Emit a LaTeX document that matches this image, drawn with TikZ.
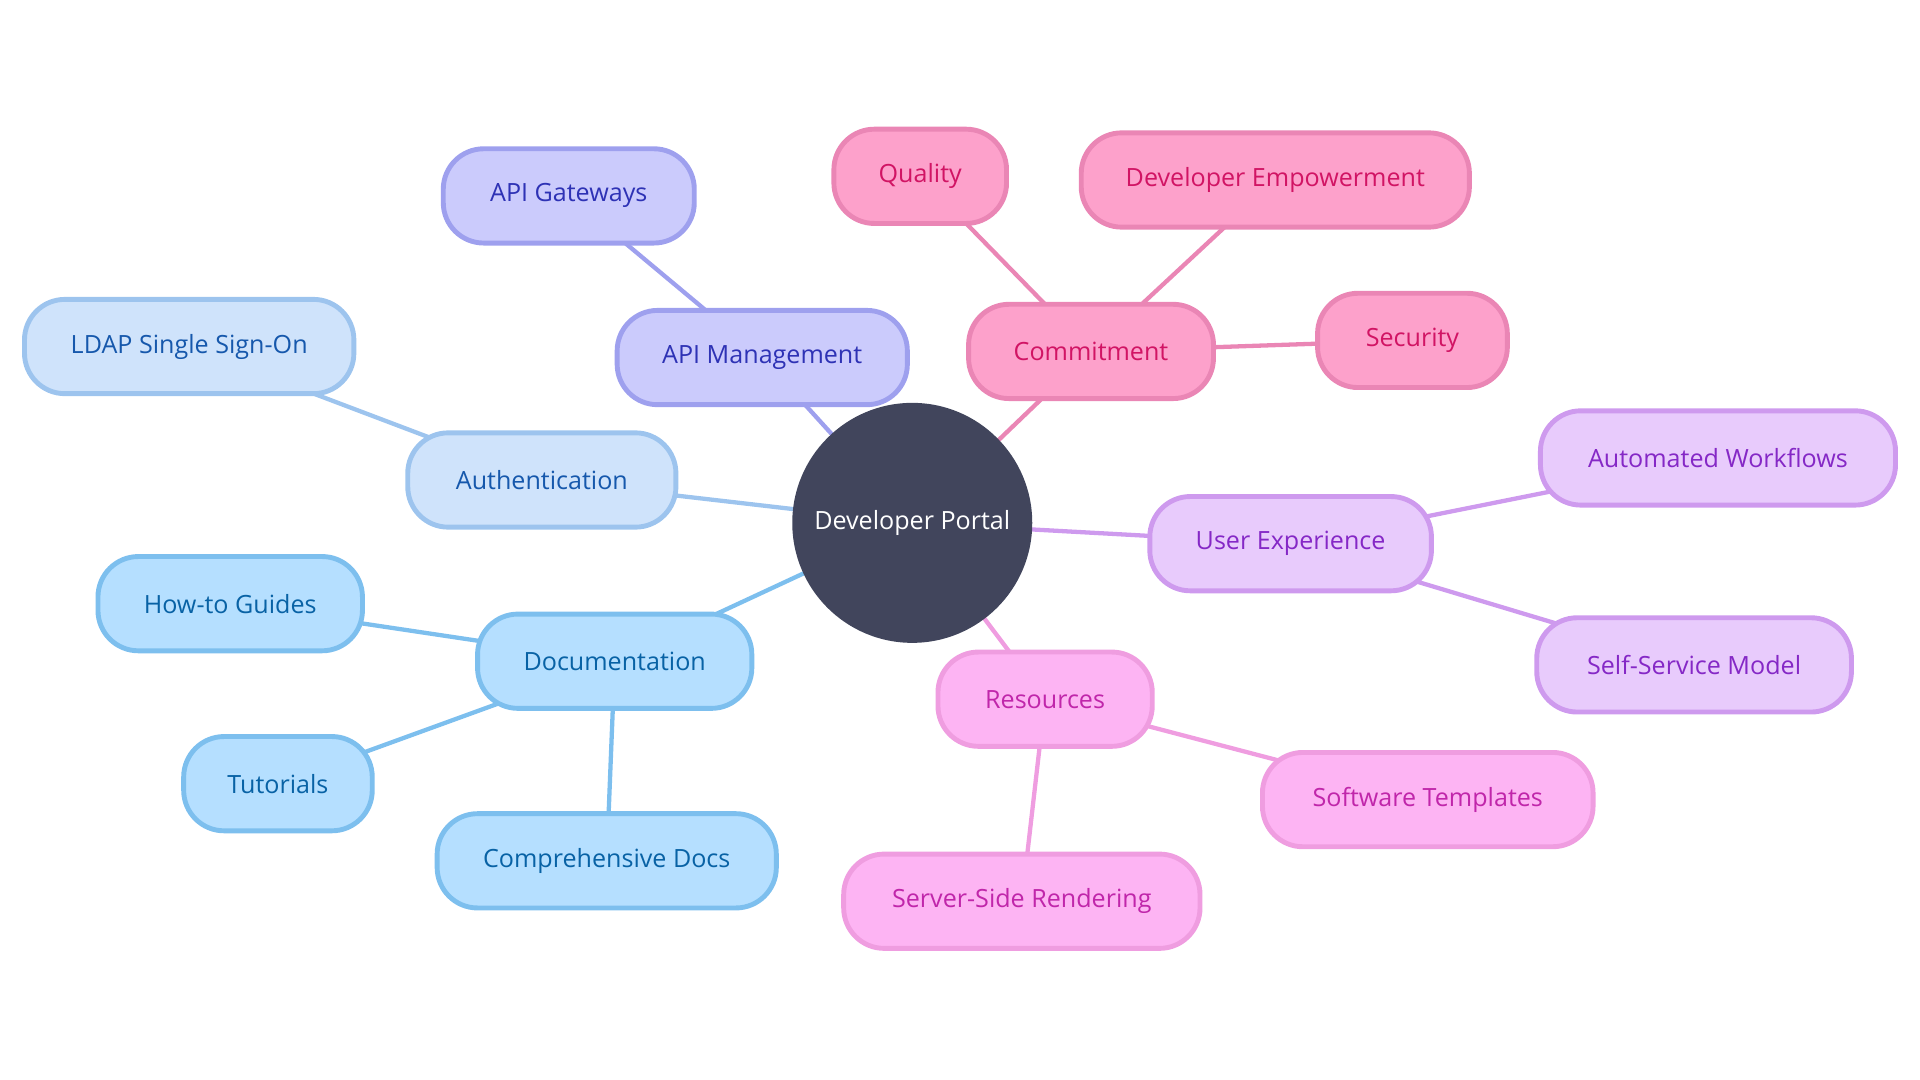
\documentclass[tikz,border=0pt]{standalone}
\usepackage{fontspec}
\setmainfont{Open Sans}
\usetikzlibrary{backgrounds}
\definecolor{hub}{HTML}{41455C}
\definecolor{apiF}{HTML}{CBCBFC}\definecolor{apiB}{HTML}{9EA0EE}\definecolor{apiT}{HTML}{2E32B5}
\definecolor{comF}{HTML}{FDA1CB}\definecolor{comB}{HTML}{EA86B5}\definecolor{comT}{HTML}{D11464}
\definecolor{autF}{HTML}{CFE3FB}\definecolor{autB}{HTML}{9DC4EE}\definecolor{autT}{HTML}{1658AC}
\definecolor{docF}{HTML}{B5DFFF}\definecolor{docB}{HTML}{7DBFEE}\definecolor{docT}{HTML}{0862A5}
\definecolor{uxF}{HTML}{E8CBFC}\definecolor{uxB}{HTML}{CE9AEE}\definecolor{uxT}{HTML}{8528C6}
\definecolor{resF}{HTML}{FDB4F3}\definecolor{resB}{HTML}{EF9DE0}\definecolor{resT}{HTML}{C026AA}
\tikzset{
  box/.style={rectangle, rounded corners=33pt, line width=4pt, minimum height=77pt,
    inner sep=0pt, font=\fontsize{20.5}{24}\selectfont},
  api/.style={box, fill=apiF, draw=apiB, text=apiT},
  com/.style={box, fill=comF, draw=comB, text=comT},
  aut/.style={box, fill=autF, draw=autB, text=autT},
  doc/.style={box, fill=docF, draw=docB, text=docT},
  ux/.style={box, fill=uxF, draw=uxB, text=uxT},
  res/.style={box, fill=resF, draw=resB, text=resT},
  link/.style={line width=3.5pt},
}
\begin{document}
\begin{tikzpicture}[x=1pt,y=-1pt]
\useasboundingbox (0,0) rectangle (1568,882);
\node[circle, fill=hub, minimum size=196pt, inner sep=0pt, text=white,
  font=\fontsize{20.5}{24}\selectfont] (hub) at (745,427) {Developer Portal};
% API
\node[api, minimum width=205pt] (gw) at (464.5,160) {API Gateways};
\node[api, minimum width=237pt] (am) at (622.5,292) {API Management};
% Commitment
\node[com, minimum width=141pt] (q) at (751.5,144) {Quality};
\node[com, minimum width=317pt] (de) at (1041.5,147) {Developer Empowerment};
\node[com, minimum width=200pt] (cm) at (891,287) {Commitment};
\node[com, minimum width=155pt] (sec) at (1153.5,278) {Security};
% Authentication
\node[aut, minimum width=269pt] (ldap) at (154.5,283) {LDAP Single Sign-On};
\node[aut, minimum width=219pt] (au) at (442.5,392) {Authentication};
% UX
\node[ux, minimum width=230pt] (ux) at (1054,444) {User Experience};
\node[ux, minimum width=290pt] (aw) at (1403,374) {Automated Workflows};
\node[ux, minimum width=257pt] (ss) at (1383.5,543) {Self-Service Model};
% Documentation
\node[doc, minimum width=216pt] (ht) at (188,493) {How-to Guides};
\node[doc, minimum width=224pt] (dc) at (502,540) {Documentation};
\node[doc, minimum width=154pt] (tu) at (227,640) {Tutorials};
\node[doc, minimum width=277pt] (cd) at (495.5,703) {Comprehensive Docs};
% Resources
\node[res, minimum width=175pt] (rs) at (853.5,571) {Resources};
\node[res, minimum width=270pt] (st) at (1166,653) {Software Templates};
\node[res, minimum width=291pt] (sr) at (834.5,736) {Server-Side Rendering};
\begin{scope}[on background layer]
\draw[link, apiB] (hub.center) -- (am.center);
\draw[link, apiB] (am.center) -- (gw.center);
\draw[link, comB] (hub.center) -- (cm.center);
\draw[link, comB] (cm.center) -- (q.center);
\draw[link, comB] (cm.center) -- (de.center);
\draw[link, comB] (cm.center) -- (sec.center);
\draw[link, autB] (hub.center) -- (au.center);
\draw[link, autB] (au.center) -- (ldap.center);
\draw[link, uxB] (hub.center) -- (ux.center);
\draw[link, uxB] (ux.center) -- (aw.center);
\draw[link, uxB] (ux.center) -- (ss.center);
\draw[link, docB] (hub.center) -- (dc.center);
\draw[link, docB] (dc.center) -- (ht.center);
\draw[link, docB] (dc.center) -- (tu.center);
\draw[link, docB] (dc.center) -- (cd.center);
\draw[link, resB] (hub.center) -- (rs.center);
\draw[link, resB] (rs.center) -- (st.center);
\draw[link, resB] (rs.center) -- (sr.center);
\end{scope}
\end{tikzpicture}
\end{document}
